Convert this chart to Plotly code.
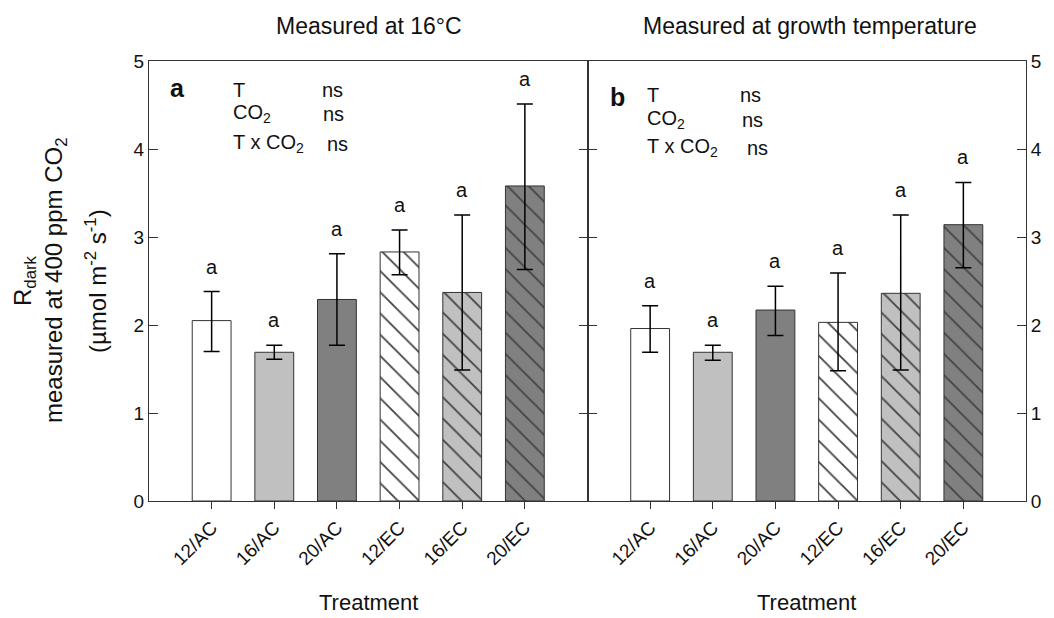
import plotly.graph_objects as go

categories = ["12/AC", "16/AC", "20/AC", "12/EC", "16/EC", "20/EC"]

# Panel a: measured at 16 °C
a_mean = [2.05, 1.69, 2.29, 2.83, 2.37, 3.58]
a_err_hi = [2.38, 1.77, 2.81, 3.08, 3.25, 4.51]
a_err_lo = [1.70, 1.61, 1.77, 2.57, 1.49, 2.63]
a_letters = ["a", "a", "a", "a", "a", "a"]

# Panel b: measured at growth temperature
b_mean = [1.96, 1.69, 2.17, 2.03, 2.36, 3.14]
b_err_hi = [2.22, 1.77, 2.44, 2.59, 3.25, 3.62]
b_err_lo = [1.69, 1.60, 1.88, 1.48, 1.49, 2.65]
b_letters = ["a", "a", "a", "a", "a", "a"]

fill_colors = ["#ffffff", "#c0c0c0", "#808080", "#ffffff", "#c0c0c0", "#808080"]
hatch = ["", "", "", "\\", "\\", "\\"]

y_ticks = [0, 1, 2, 3, 4, 5]

FONT = "Arial, Liberation Sans, sans-serif"
INK = "#111111"

fig = go.Figure()


def add_panel(mean, hi, lo, xa, ya):
    fig.add_trace(go.Bar(
        x=categories, y=mean, xaxis=xa, yaxis=ya, width=0.62,
        marker=dict(
            color=fill_colors,
            line=dict(color="#333333", width=1),
            pattern=dict(shape=hatch, fgcolor="#000000", fgopacity=1, size=15,
                         solidity=0.12, fillmode="overlay"),
        ),
        error_y=dict(type="data", symmetric=False,
                     array=[h - m for h, m in zip(hi, mean)],
                     arrayminus=[m - l for m, l in zip(mean, lo)],
                     color="#000000", thickness=1.5, width=8),
        showlegend=False,
    ))


add_panel(a_mean, a_err_hi, a_err_lo, "x", "y")
add_panel(b_mean, b_err_hi, b_err_lo, "x2", "y2")

# significance letters
for c, h, t in zip(categories, a_err_hi, a_letters):
    fig.add_annotation(x=c, y=h, xref="x", yref="y", text=t, showarrow=False,
                       yanchor="middle", yshift=25, font=dict(size=20, color=INK, family=FONT))
for c, h, t in zip(categories, b_err_hi, b_letters):
    fig.add_annotation(x=c, y=h, xref="x2", yref="y2", text=t, showarrow=False,
                       yanchor="middle", yshift=25, font=dict(size=20, color=INK, family=FONT))


def note(xr, yr, x, y, text, size=20, bold=False):
    fig.add_annotation(xref=xr, yref=yr, x=x, y=y, text=(f"<b>{text}</b>" if bold else text),
                       showarrow=False, xanchor="left", yanchor="middle",
                       font=dict(size=size, color=INK, family=FONT))


# panel a stats block
note("x domain", "y domain", 0.044, 0.939, "a", size=25, bold=True)
note("x domain", "y domain", 0.186, 0.934, "T")
note("x domain", "y domain", 0.391, 0.934, "ns")
note("x domain", "y domain", 0.186, 0.880, "CO<sub>2</sub>")
note("x domain", "y domain", 0.393, 0.880, "ns")
note("x domain", "y domain", 0.186, 0.812, "T x CO<sub>2</sub>")
note("x domain", "y domain", 0.402, 0.812, "ns")

# panel b stats block
note("x2 domain", "y2 domain", 0.046, 0.918, "b", size=25, bold=True)
note("x2 domain", "y2 domain", 0.132, 0.923, "T")
note("x2 domain", "y2 domain", 0.343, 0.923, "ns")
note("x2 domain", "y2 domain", 0.132, 0.866, "CO<sub>2</sub>")
note("x2 domain", "y2 domain", 0.347, 0.866, "ns")
note("x2 domain", "y2 domain", 0.132, 0.803, "T x CO<sub>2</sub>")
note("x2 domain", "y2 domain", 0.359, 0.803, "ns")

# panel titles
fig.add_annotation(xref="paper", yref="paper", x=0.25, xshift=1, y=1, yshift=35,
                   text="Measured at 16°C", showarrow=False, xanchor="center", yanchor="middle",
                   font=dict(size=23, color=INK, family=FONT))
fig.add_annotation(xref="paper", yref="paper", x=0.75, xshift=3, y=1, yshift=35,
                   text="Measured at growth temperature", showarrow=False, xanchor="center",
                   yanchor="middle", font=dict(size=23, color=INK, family=FONT))

# x-axis titles
for xp in [0.25, 0.75]:
    fig.add_annotation(xref="paper", yref="paper", x=xp, y=0, yshift=-116,
                       text="Treatment", showarrow=False, xanchor="center", yanchor="bottom",
                       font=dict(size=22, color=INK, family=FONT))

# y-axis title (three lines)
ylab = ["R<sub>dark</sub>", "measured at 400 ppm CO<sub>2</sub>",
        "(µmol m<sup>-2</sup> s<sup>-1</sup>)"]
for txt, px in zip(ylab, [24, 55, 96]):
    fig.add_annotation(xref="paper", yref="paper", x=0, xshift=px - 149, y=0.5,
                       text=txt, textangle=-90, showarrow=False, xanchor="center",
                       yanchor="middle", font=dict(size=24, color=INK, family=FONT))

xcommon = dict(type="category", range=[-1, 6], showline=True, linecolor="#333333", linewidth=1,
               mirror=True, ticks="outside", ticklen=7, tickcolor="#333333", tickangle=-45,
               tickfont=dict(size=19, color=INK, family=FONT), showgrid=False, zeroline=False)
ycommon = dict(range=[0, 5], tickvals=y_ticks, showline=True, linecolor="#333333", linewidth=1,
               mirror="ticks", ticks="inside", ticklen=9, tickcolor="#333333",
               tickfont=dict(size=19, color=INK, family=FONT), showgrid=False, zeroline=False)

fig.update_layout(
    width=1054, height=618,
    margin=dict(l=149, r=23, t=61, b=117),
    paper_bgcolor="white", plot_bgcolor="white",
    xaxis=dict(domain=[0, 0.5], anchor="y", **xcommon),
    xaxis2=dict(domain=[0.5, 1], anchor="y2", **xcommon),
    yaxis=dict(domain=[0, 1], anchor="x", **ycommon),
    yaxis2=dict(domain=[0, 1], anchor="x2", side="right", **ycommon),
    bargap=0.38,
)

fig.write_html("out.html")
